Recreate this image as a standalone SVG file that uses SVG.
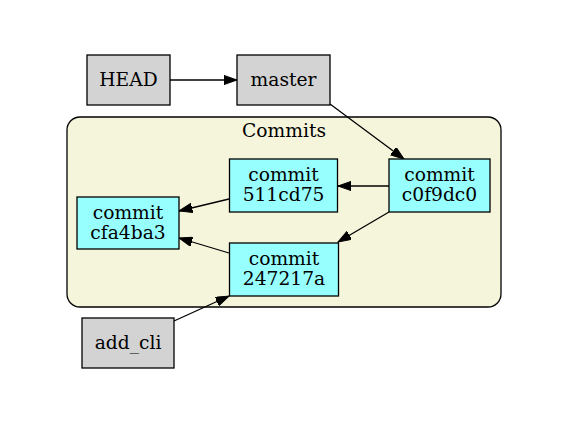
<svg xmlns="http://www.w3.org/2000/svg" width="568" height="423" viewBox="0 0 568 423">
<style>
text{font-family:"DejaVu Serif","Liberation Serif",serif;font-size:18.67px;fill:#000;text-anchor:middle}
.ref{fill:#d3d3d3;stroke:#000;stroke-width:1.3}
.commit{fill:#98ffff;stroke:#000;stroke-width:1.3}
.edge{stroke:#000;stroke-width:1.3;fill:none;marker-end:url(#arr)}
</style>
<defs>
<marker id="arr" markerUnits="userSpaceOnUse" markerWidth="14" markerHeight="10" refX="13.3" refY="4.7" orient="auto">
<path d="M0,0 L13.3,4.7 L0,9.4 z" fill="#000" stroke="#000" stroke-width="1"/>
</marker>
</defs>
<rect width="568" height="423" fill="#fff"/>
<g id="cluster_commits">
<rect x="67" y="117" width="434" height="190" rx="13" ry="13" fill="#f5f5dc" stroke="#000" stroke-width="1.3"/>
<text x="284" y="137">Commits</text>
</g>
<g id="connectors">
<line class="edge" x1="170" y1="80" x2="237" y2="80"/>
<line class="edge" x1="330" y1="104" x2="404" y2="159"/>
<line class="edge" x1="389" y1="186" x2="338" y2="186"/>
<line class="edge" x1="389" y1="212" x2="338" y2="242"/>
<line class="edge" x1="229" y1="199" x2="179" y2="211"/>
<line class="edge" x1="229" y1="253" x2="179" y2="238"/>
<line class="edge" x1="174" y1="321" x2="229" y2="296"/>
</g>
<g id="HEAD">
<rect class="ref" x="87" y="55" width="83" height="50"/>
<text x="128.5" y="86">HEAD</text>
</g>
<g id="master">
<rect class="ref" x="237" y="55" width="93" height="50"/>
<text x="283.5" y="86">master</text>
</g>
<g id="c0f9dc0">
<rect class="commit" x="389" y="159" width="101" height="53"/>
<text x="439.5" y="181">commit</text>
<text x="439.5" y="201">c0f9dc0</text>
</g>
<g id="511cd75">
<rect class="commit" x="229.5" y="159" width="108" height="53"/>
<text x="283.5" y="181">commit</text>
<text x="283.5" y="201">511cd75</text>
</g>
<g id="cfa4ba3">
<rect class="commit" x="77" y="197" width="102" height="52"/>
<text x="128" y="218.5">commit</text>
<text x="128" y="238.5">cfa4ba3</text>
</g>
<g id="247217a">
<rect class="commit" x="229.5" y="243" width="109" height="53"/>
<text x="284" y="265">commit</text>
<text x="284" y="285">247217a</text>
</g>
<g id="add_cli">
<rect class="ref" x="82" y="318" width="92" height="50"/>
<text x="128" y="349">add_cli</text>
</g>
</svg>
